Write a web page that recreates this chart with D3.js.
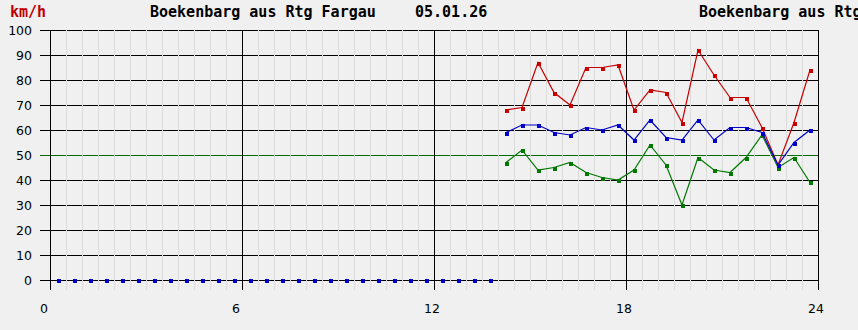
<!DOCTYPE html>
<html><head><meta charset="utf-8">
<script src="https://cdn.jsdelivr.net/npm/d3@7"></script>
<style>
html,body{margin:0;padding:0;background:#f0f0f0;}
svg{display:block;}
text{font-family:"DejaVu Sans Mono",monospace;}
</style></head>
<body>
<svg id="c" width="858" height="330"></svg>
<script>
// ---- data ----
const titleText = "Boekenbarg aus Rtg Fargau";
const dateText = "05.01.26";
const unitText = "km/h";
const yTicks = [0,10,20,30,40,50,60,70,80,90,100];
const xTicks = [0,6,12,18,24];
const zeroHours = [0.25,0.75,1.25,1.75,2.25,2.75,3.25,3.75,4.25,4.75,5.25,5.75,6.25,6.75,7.25,7.75,8.25,8.75,9.25,9.75,10.25,10.75,11.25,11.75,12.25,12.75,13.25,13.75];
const zeroValues = [0,0,0,0,0,0,0,0,0,0,0,0,0,0,0,0,0,0,0,0,0,0,0,0,0,0,0,0];
const hours = [14.25,14.75,15.25,15.75,16.25,16.75,17.25,17.75,18.25,18.75,19.25,19.75,20.25,20.75,21.25,21.75,22.25,22.75,23.25,23.75];
const maxSpeed = [68,69,87,75,70,85,85,86,68,76,75,63,92,82,73,73,61,46,63,84];
const avgSpeed = [59,62,62,59,58,61,60,62,56,64,57,56,64,56,61,61,59,46,55,60];
const minSpeed = [47,52,44,45,47,43,41,40,44,54,46,30,49,44,43,49,58,45,49,39];
const limitValue = 50;

// ---- chart ----
const svg = d3.select("#c");
const x = d3.scaleLinear().domain([0,24]).range([50,818]);
const y = d3.scaleLinear().domain([0,100]).range([280,30]);
const bottom = 290;

svg.append("rect").attr("width",858).attr("height",330).attr("fill","#f0f0f0");

// horizontal grid lines (black) with tick stubs
const g = svg.append("g").attr("shape-rendering","crispEdges");
yTicks.forEach(v=>{
  g.append("line").attr("x1",40).attr("x2",818)
    .attr("y1",Math.round(y(v))+0.5).attr("y2",Math.round(y(v))+0.5)
    .attr("stroke", v===limitValue ? "#006e00" : "#000").attr("stroke-width",1);
});
// minor vertical lines (light gray), every half hour
d3.range(0.5,24,0.5).filter(h=>h%6!==0).forEach(h=>{
  g.append("line").attr("x1",Math.round(x(h))+0.5).attr("x2",Math.round(x(h))+0.5)
    .attr("y1",30).attr("y2",bottom).attr("stroke","#dcdcdc").attr("stroke-width",1);
});
// major vertical lines
xTicks.forEach(h=>{
  g.append("line").attr("x1",Math.round(x(h))+0.5).attr("x2",Math.round(x(h))+0.5)
    .attr("y1",30).attr("y2",bottom).attr("stroke","#000").attr("stroke-width",1);
});

// y labels
svg.append("g").selectAll("text").data(yTicks).join("text")
  .attr("x",32).attr("y",d=>y(d)+4.5).attr("text-anchor","end")
  .style("font-family","'DejaVu Sans',sans-serif").attr("font-size",12.5).attr("fill","#000")
  .text(d=>d);
// x labels
svg.append("g").selectAll("text").data(xTicks).join("text")
  .attr("x",d=>x(d)-10).attr("y",313)
  .style("font-family","'DejaVu Sans',sans-serif").attr("font-size",12.5).attr("fill","#000")
  .text(d=>d);

// titles
svg.append("text").attr("x",10).attr("y",17).attr("font-size",15).attr("font-weight","bold")
  .attr("fill","#c00000").text(unitText);
svg.append("text").attr("x",150).attr("y",17).attr("font-size",15).attr("font-weight","bold")
  .attr("fill","#000").text(titleText);
svg.append("text").attr("x",415).attr("y",17).attr("font-size",15).attr("font-weight","bold")
  .attr("fill","#000").text(dateText);
svg.append("text").attr("x",699).attr("y",17).attr("font-size",15).attr("font-weight","bold")
  .attr("fill","#000").text(titleText);

// series
const series = [
  {vals:maxSpeed, color:"#c80000"},
  {vals:minSpeed, color:"#007800"},
  {vals:avgSpeed, color:"#0000c8"}
];
const line = d3.line().x(d=>x(d[0])).y(d=>y(d[1]));
series.forEach(s=>{
  const pts = hours.map((h,i)=>[h,s.vals[i]]);
  svg.append("path").attr("d",line(pts)).attr("fill","none").attr("stroke",s.color).attr("stroke-width",1.2);
  svg.append("g").selectAll("rect").data(pts).join("rect")
    .attr("x",d=>Math.round(x(d[0]))-1.5).attr("y",d=>Math.round(y(d[1]))-1.5)
    .attr("width",4).attr("height",4).attr("fill",s.color).attr("shape-rendering","crispEdges");
});
// zero (no traffic) points
svg.append("g").selectAll("rect").data(zeroHours.map((h,i)=>[h,zeroValues[i]])).join("rect")
  .attr("x",d=>Math.round(x(d[0]))-1.5).attr("y",d=>Math.round(y(d[1]))-1.5)
  .attr("width",4).attr("height",4).attr("fill","#0000c8").attr("shape-rendering","crispEdges");
</script>
</body></html>
